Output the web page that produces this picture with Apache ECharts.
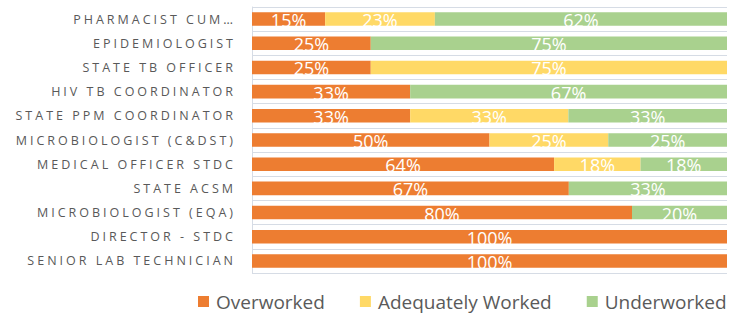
<!DOCTYPE html>
<html><head><meta charset="utf-8">
<script src="https://cdn.jsdelivr.net/npm/echarts@6/dist/echarts.min.js"></script>
<style>html,body{margin:0;padding:0;background:#fff}#c{width:744px;height:320px}
#c text[fill="#595959"]{letter-spacing:3px}</style>
</head><body><div id="c"></div>
<script>
const categories = ['PHARMACIST CUM…','EPIDEMIOLOGIST','STATE TB OFFICER','HIV TB COORDINATOR','STATE PPM COORDINATOR','MICROBIOLOGIST (C&DST)','MEDICAL OFFICER STDC','STATE ACSM','MICROBIOLOGIST (EQA)','DIRECTOR - STDC','SENIOR LAB TECHNICIAN'];
const overworked = [15.4, 25, 25, 33.3, 33.3, 50, 63.6, 66.7, 80, 100, 100];
const adequatelyWorked = [23.1, null, 75, null, 33.3, 25, 18.2, null, null, null, null];
const underworked = [61.5, 75, null, 66.7, 33.4, 25, 18.2, 33.3, 20, null, null];
const seriesNames = ['Overworked', 'Adequately Worked', 'Underworked'];
const colors = ['#ED7D31', '#FFD966', '#A9D18E'];

const chart = echarts.init(document.getElementById('c'), null, {renderer: 'svg'});
const label = {
  show: true, position: 'inside', color: '#ffffff', fontSize: 18,
  fontFamily: 'Open Sans', offset: [0, 1],
  formatter: p => Math.round(p.value) + '%'
};
const mk = (name, data, i) => ({
  name, type: 'bar', stack: 'total', data, barWidth: '56%',
  itemStyle: {color: colors[i]}, label, emphasis: {disabled: true}
});
chart.setOption({
  animation: false,
  grid: {left: 252, right: 17, top: 7, bottom: 47, containLabel: false},
  xAxis: {type: 'value', min: 0, max: 100, show: false},
  yAxis: {
    type: 'category', data: categories, inverse: true,
    axisLine: {show: true, lineStyle: {color: '#D6DCE5'}},
    axisTick: {show: false},
    splitLine: {show: true, lineStyle: {color: '#D6DCE5', width: 1}},
    axisLabel: {color: '#595959', fontSize: 12.5, fontFamily: 'Open Sans', margin: 16}
  },
  legend: {
    data: seriesNames, left: 193, top: 287, itemGap: 35, icon: 'rect',
    itemWidth: 11, itemHeight: 11,
    textStyle: {color: '#5a5a5a', fontSize: 19, fontFamily: 'Open Sans', padding: [0, 0, 0, 2]}
  },
  series: [mk(seriesNames[0], overworked, 0), mk(seriesNames[1], adequatelyWorked, 1), mk(seriesNames[2], underworked, 2)]
});
</script></body></html>
